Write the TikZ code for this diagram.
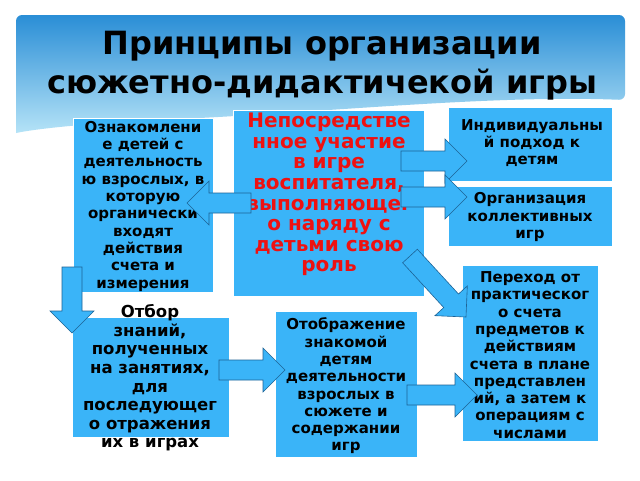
\documentclass[tikz,border=0pt]{standalone}
\usepackage{fontspec}
\setmainfont{DejaVu Sans}
\usetikzlibrary{calc}
\definecolor{boxb}{HTML}{3AB4F8}
\definecolor{topb}{HTML}{2A8ED6}
\definecolor{lowb}{HTML}{B5E3F7}
\definecolor{redt}{HTML}{EE1111}
\newcommand\barrow[2]{%
 \coordinate (H) at ($(#2)!22pt!(#1)$);
 \draw[arrline] ($(#1)!10pt!90:(#2)$) -- ($(H)!10pt!-90:(#1)$) -- ($(H)!22pt!-90:(#1)$) -- (#2) -- ($(H)!22pt!90:(#1)$) -- ($(H)!10pt!90:(#1)$) -- ($(#1)!10pt!-90:(#2)$) -- cycle;}
\begin{document}
\begin{tikzpicture}[x=1pt,y=-1pt,
  bx/.style={draw=white,line width=0.8pt,fill=boxb},
  tx/.style={font=\bfseries\fontsize{15}{17.3}\selectfont,align=center,inner sep=0pt},
  arrline/.style={draw=topb!70!black,line width=0.6pt,fill=boxb}]
\useasboundingbox (0,0) rectangle (640,480);
\fill[white] (0,0) rectangle (640,480);
\shade[top color=topb,bottom color=lowb,rounded corners=6pt] (16,15) -- (625,15) -- (625,100) [sharp corners] .. controls (500,95) and (350,110) .. (200,118) .. controls (100,122) and (40,128) .. (16,133) [rounded corners=6pt] -- cycle;
\node[font=\bfseries\fontsize{32}{39}\selectfont,align=center] (title) at (322,66) {Принципы организации\\сюжетно-дидактичекой игры};
\node[bx,minimum width=140pt,minimum height=174pt,anchor=north west] (b1) at (73,118) {};
\node[tx,anchor=north] (t1) at (143,121) {Ознакомлени\\е детей с\\деятельность\\ю взрослых, в\\которую\\органически\\входят\\действия\\счета и\\измерения};
\node[bx,minimum width=191pt,minimum height=186pt,anchor=north west] (c) at (233,110) {};
\node[tx,font=\bfseries\fontsize{20}{20.6}\selectfont,text=redt,anchor=north] (tc) at (329,113) {Непосредстве\\нное участие\\в игре\\воспитателя,\\выполняющег\\о наряду с\\детьми свою\\роль};
\node[bx,minimum width=164pt,minimum height=74pt,anchor=north west] (b2) at (448,107) {};
\node[tx] (t2) at (532,143) {Индивидуальны\\й подход к\\детям};
\node[bx,minimum width=164pt,minimum height=60pt,anchor=north west] (b3) at (448,186) {};
\node[tx] (t3) at (530,217) {Организация\\коллективных\\игр};
\node[bx,minimum width=136pt,minimum height=176pt,anchor=north west] (b4) at (462,265) {};
\node[tx] (t4) at (530,355) {Переход от\\практическог\\о счета\\предметов к\\действиям\\счета в плане\\представлен\\ий, а затем к\\операциям с\\числами};
\node[bx,minimum width=142pt,minimum height=146pt,anchor=north west] (b5) at (275,311) {};
\node[tx] (t5) at (346,386) {Отображение\\знакомой\\детям\\деятельности\\взрослых в\\сюжете и\\содержании\\игр};
\node[bx,minimum width=157pt,minimum height=120pt,anchor=north west] (b6) at (72,317) {};
\node[tx,font=\bfseries\fontsize{16.5}{18.6}\selectfont] (t6) at (150,378) {Отбор\\знаний,\\полученных\\на занятиях,\\для\\последующег\\о отражения\\их в играх};
\coordinate (p1) at (251,203); \coordinate (q1) at (187,203);
\coordinate (p2) at (401,161); \coordinate (q2) at (467,161);
\coordinate (p3) at (401,197); \coordinate (q3) at (467,197);
\coordinate (p4) at (410,256); \coordinate (q4) at (466,317);
\coordinate (p5) at (72,267); \coordinate (q5) at (72,333);
\coordinate (p6) at (219,370); \coordinate (q6) at (285,370);
\coordinate (p7) at (407,395); \coordinate (q7) at (477,395);
\barrow{p1}{q1}
\barrow{p2}{q2}
\barrow{p3}{q3}
\barrow{p4}{q4}
\barrow{p5}{q5}
\barrow{p6}{q6}
\barrow{p7}{q7}
\end{tikzpicture}
\end{document}
